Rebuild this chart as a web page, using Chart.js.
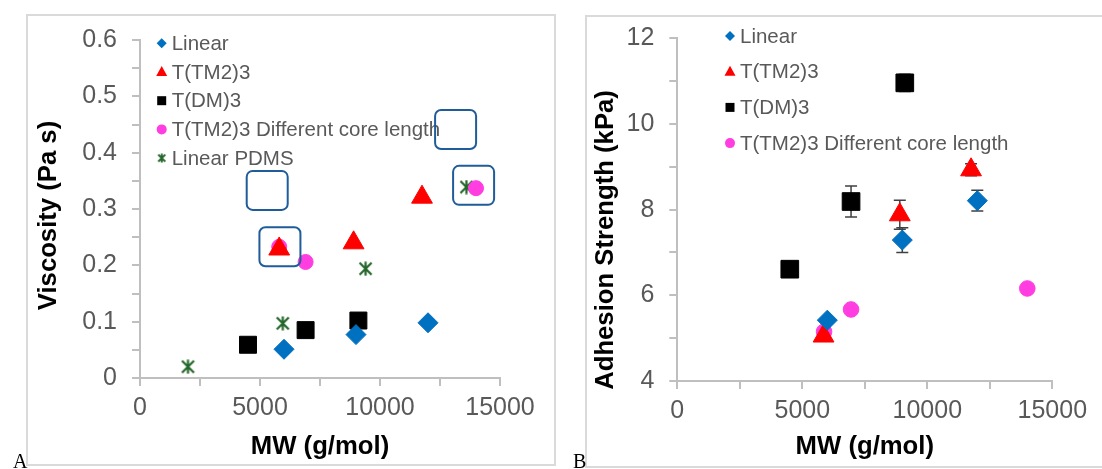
<!DOCTYPE html>
<html>
<head>
<meta charset="utf-8">
<script src="https://cdn.jsdelivr.net/npm/chart.js@4.4.0/dist/chart.umd.min.js"></script>
<style>
  body { margin: 0; background: #fff; width: 1102px; height: 469px; overflow: hidden; position: relative; }
  .panel { position: absolute; border: 2px solid #dadada; box-sizing: border-box; }
  #panelA { left: 26px; top: 14px; width: 530px; height: 452px; }
  #panelB { left: 585px; top: 15px; width: 540px; height: 453px; }
  canvas { position: absolute; top: 0; }
  #chartA { left: 0; }
  #chartB { left: 560px; }
  .tag { position: absolute; top: 451px; line-height: 20px; font-family: "Liberation Serif", "Times New Roman", serif; font-size: 20px; color: #000; }
</style>
</head>
<body>
<div class="panel" id="panelA"></div>
<div class="panel" id="panelB"></div>
<canvas id="chartA" width="560" height="469"></canvas>
<canvas id="chartB" width="542" height="469"></canvas>
<div class="tag" style="left:13px">A</div>
<div class="tag" style="left:573px">B</div>
<script>
// ---- Panel A: viscosity vs MW ----
const linearMW_A = [6000, 9000, 12000];
const linearVisc = [0.051, 0.077, 0.098];
const tm2MW_A = [5800, 8900, 11750];
const tm2Visc = [0.229, 0.240, 0.321];
const dmMW_A = [4500, 6900, 9100];
const dmVisc = [0.059, 0.085, 0.102];
const coreMW_A = [5800, 6900, 14000];
const coreVisc = [0.233, 0.206, 0.337];
const pdmsMW = [2000, 5950, 9400, 13600];
const pdmsVisc = [0.020, 0.097, 0.194, 0.339];
// highlight boxes (centres, data units)
const boxMW = [13150, 13900, 5300, 5830];
const boxVisc = [0.441, 0.342, 0.333, 0.233];

// ---- Panel B: adhesion strength vs MW ----
const linearMW_B = [6000, 9000, 12000];
const linearAdh = [5.42, 7.29, 8.21];
const linearErr = [0, 0.29, 0.24];
const tm2MW_B = [5850, 8900, 11750];
const tm2Adh = [5.05, 7.88, 8.93];
const tm2Err = [0, 0.34, 0.14];
const dmMW_B = [4500, 6950, 9100];
const dmAdh = [6.61, 8.19, 10.96];
const dmErr = [0, 0.36, 0.2];
const coreMW_B = [5870, 6950, 14000];
const coreAdh = [5.15, 5.67, 6.16];

const names = ["Linear", "T(TM2)3", "T(DM)3", "T(TM2)3 Different core length", "Linear PDMS"];
const colors = ["#0070C0", "#FF0000", "#000000", "#FF3DE0", "#24662A"];

Chart.defaults.font.family = '"Liberation Sans", Arial, sans-serif';

function makeStar(size, lw) {
  const c = document.createElement("canvas");
  c.width = size; c.height = size;
  const g = c.getContext("2d");
  g.strokeStyle = colors[4];
  g.lineWidth = lw;
  const a = 1.5, b = size - 1.5, m = size / 2;
  g.beginPath();
  g.moveTo(a, a); g.lineTo(b, b);
  g.moveTo(b, a); g.lineTo(a, b);
  g.moveTo(m, 0.5); g.lineTo(m, size - 0.5);
  g.stroke();
  return c;
}
const starBig = makeStar(15, 2.2);
const starSmall = makeStar(10, 1.8);

const pts = (xs, ys) => xs.map((x, i) => ({ x: x, y: ys[i] }));

function ds(i, xs, ys, style, r) {
  return {
    label: names[i], data: pts(xs, ys),
    pointStyle: style, pointRadius: r, pointHoverRadius: r,
    backgroundColor: colors[i], borderColor: colors[i], pointBorderWidth: 1
  };
}

// small legend marker
function marker(ctx, kind, x, y, color) {
  ctx.save();
  ctx.fillStyle = color;
  ctx.beginPath();
  if (kind === "diamond") {
    ctx.moveTo(x, y - 5); ctx.lineTo(x + 5, y); ctx.lineTo(x, y + 5); ctx.lineTo(x - 5, y);
  } else if (kind === "triangle") {
    ctx.moveTo(x, y - 6); ctx.lineTo(x + 5.5, y + 4); ctx.lineTo(x - 5.5, y + 4);
  } else if (kind === "square") {
    ctx.rect(x - 4.5, y - 4.5, 9, 9);
  } else if (kind === "circle") {
    ctx.arc(x, y, 5, 0, Math.PI * 2);
  } else {
    ctx.drawImage(starSmall, x - 5, y - 5);
    ctx.restore();
    return;
  }
  ctx.closePath();
  ctx.fill();
  ctx.restore();
}

const extras = {
  id: "extras",
  beforeDatasetsDraw(chart, args, opts) {
    const { ctx, scales: { x, y } } = chart;
    ctx.save();
    ctx.strokeStyle = "#404040";
    ctx.lineWidth = 1.5;
    (opts.errors || []).forEach(e => {
      e.xs.forEach((mw, i) => {
        if (!e.err[i]) return;
        const px = x.getPixelForValue(mw);
        const top = y.getPixelForValue(e.ys[i] + e.err[i]);
        const bot = y.getPixelForValue(e.ys[i] - e.err[i]);
        ctx.beginPath();
        ctx.moveTo(px, top); ctx.lineTo(px, bot);
        ctx.moveTo(px - 6, top); ctx.lineTo(px + 6, top);
        ctx.moveTo(px - 6, bot); ctx.lineTo(px + 6, bot);
        ctx.stroke();
      });
    });
    ctx.restore();
  },
  afterDatasetsDraw(chart, args, opts) {
    const { ctx, scales: { x, y } } = chart;
    // legend
    ctx.save();
    ctx.font = '20.5px "Liberation Sans", Arial, sans-serif';
    ctx.fillStyle = "#595959";
    ctx.textBaseline = "middle";
    opts.legend.rows.forEach((row, i) => {
      const ly = opts.legend.y0 + i * opts.legend.gap;
      marker(ctx, row, opts.legend.x, ly, colors[i]);
      ctx.fillStyle = "#595959";
      ctx.fillText(names[i], opts.legend.x + 10, ly + 1);
    });
    ctx.restore();
    // rounded highlight boxes
    ctx.save();
    ctx.strokeStyle = "#1F5C99";
    ctx.lineWidth = 2;
    (opts.boxes || []).forEach(b => {
      const cx = x.getPixelForValue(b.x), cy = y.getPixelForValue(b.y);
      const w = 41, h = 39, r = 6, l = cx - w / 2, t = cy - h / 2;
      ctx.beginPath();
      ctx.moveTo(l + r, t);
      ctx.arcTo(l + w, t, l + w, t + h, r);
      ctx.arcTo(l + w, t + h, l, t + h, r);
      ctx.arcTo(l, t + h, l, t, r);
      ctx.arcTo(l, t, l + w, t, r);
      ctx.closePath();
      ctx.stroke();
    });
    ctx.restore();
    // y axis title
    ctx.save();
    ctx.translate(opts.ytitle.x, opts.ytitle.y);
    ctx.rotate(-Math.PI / 2);
    ctx.font = 'bold 25.7px "Liberation Sans", Arial, sans-serif';
    ctx.fillStyle = "#000";
    ctx.textAlign = "center";
    ctx.textBaseline = "middle";
    ctx.fillText(opts.ytitle.text, 0, 0);
    ctx.restore();
  }
};

function axisCommon() {
  return {
    type: "linear",
    grid: { drawOnChartArea: false, drawTicks: true, tickLength: 8, color: "#BFBFBF", lineWidth: 2 },
    border: { color: "#BFBFBF", width: 2 },
    ticks: { autoSkip: false, color: "#595959", font: { size: 25 }, padding: 15 }
  };
}

function makeChart(id, datasets, yOpts, yWidth, xHeight, padding, extraOpts) {
  const xAxis = axisCommon();
  xAxis.min = 0; xAxis.max = 15000;
  xAxis.ticks.stepSize = 2500;
  xAxis.ticks.padding = 7;
  xAxis.ticks.maxRotation = 0;
  xAxis.ticks.callback = v => (v % 5000 === 0 ? String(v) : "");
  xAxis.title = { display: true, text: "MW (g/mol)", color: "#000", font: { size: 25.7, weight: "bold" }, padding: { top: 0, bottom: 7 } };
  xAxis.afterFit = s => { s.height = xHeight; };
  const yAxis = Object.assign(axisCommon(), yOpts);
  yAxis.ticks = Object.assign(axisCommon().ticks, yOpts.ticks);
  yAxis.afterFit = s => { s.width = yWidth; };
  return new Chart(document.getElementById(id), {
    type: "scatter",
    data: { datasets: datasets },
    options: {
      responsive: false, animation: false, devicePixelRatio: 1,
      layout: { padding: padding },
      scales: { x: xAxis, y: yAxis },
      plugins: { legend: { display: false }, tooltip: { enabled: false }, extras: extraOpts }
    },
    plugins: [extras]
  });
}

makeChart("chartA", [
  ds(0, linearMW_A, linearVisc, "rectRot", 10),
  ds(1, tm2MW_A, tm2Visc, "triangle", 12),
  ds(2, dmMW_A, dmVisc, "rect", 12),
  ds(3, coreMW_A, coreVisc, "circle", 7.5),
  ds(4, pdmsMW, pdmsVisc, starBig, 7.5)
], {
  min: 0, max: 0.6,
  ticks: {
    stepSize: 0.05,
    callback: v => (Math.abs(v * 10 - Math.round(v * 10)) < 1e-6 ? String(Math.round(v * 10) / 10) : "")
  }
}, 140, 91, { left: 0, top: 40, right: 60, bottom: 0 }, {
  legend: { x: 161.7, y0: 43.3, gap: 28.7, rows: ["diamond", "triangle", "square", "circle", "star"] },
  boxes: boxMW.map((m, i) => ({ x: m, y: boxVisc[i] })),
  ytitle: { text: "Viscosity (Pa s)", x: 49, y: 215.5 }
});

makeChart("chartB", [
  ds(0, linearMW_B, linearAdh, "rectRot", 10),
  ds(1, tm2MW_B, tm2Adh, "triangle", 12),
  ds(2, dmMW_B, dmAdh, "rect", 12.5),
  ds(3, coreMW_B, coreAdh, "circle", 7.8)
], {
  min: 4, max: 12,
  ticks: { stepSize: 1, callback: v => (v % 2 === 0 ? String(v) : "") }
}, 117.3, 88, { left: 0, top: 38.3, right: 49.7, bottom: 0 }, {
  legend: { x: 170, y0: 36, gap: 35.7, rows: ["diamond", "triangle", "square", "circle"] },
  errors: [
    { xs: linearMW_B, ys: linearAdh, err: linearErr },
    { xs: tm2MW_B, ys: tm2Adh, err: tm2Err },
    { xs: dmMW_B, ys: dmAdh, err: dmErr }
  ],
  ytitle: { text: "Adhesion Strength (kPa)", x: 46, y: 240 }
});
</script>
</body>
</html>
